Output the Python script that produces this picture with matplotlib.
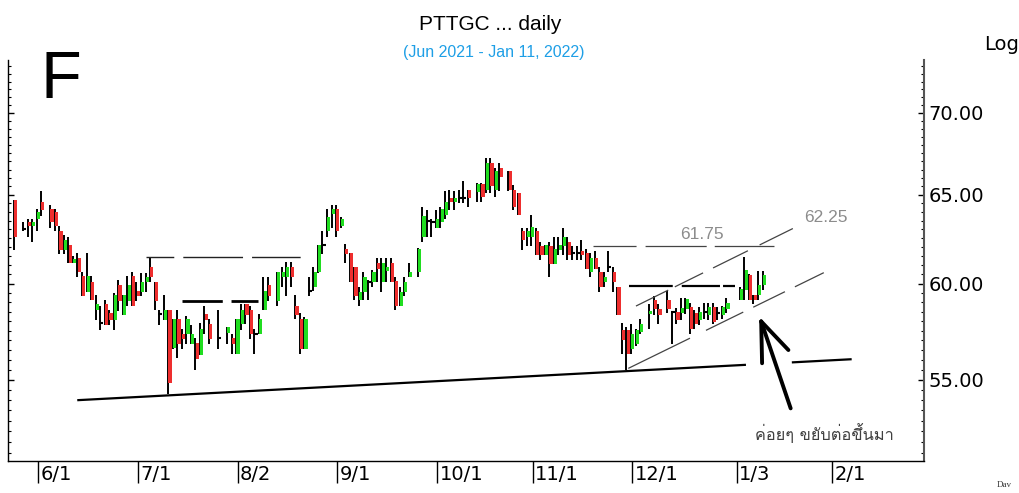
import numpy as np
import pandas as pd
import matplotlib
matplotlib.use("Agg")
import matplotlib.pyplot as plt
import matplotlib.transforms as mtrans
from matplotlib import font_manager as fm
from matplotlib.ft2font import FT2Font
from matplotlib.ticker import FixedLocator, NullFormatter, FormatStrFormatter

# ---------------- data ----------------
start_date = "2021-05-25"
holidays = ["2021-05-26", "2021-06-03", "2021-07-26", "2021-07-28", "2021-08-12",
            "2021-09-24", "2021-10-13", "2021-10-22", "2021-12-06", "2021-12-10",
            "2021-12-31", "2022-01-03"]

ohlc = [
    (64.7, 64.7, 61.85, 62.6), (63.0, 63.4, 62.9, 63.0), (63.4, 63.6, 62.6, 63.2), (63.2, 63.6, 62.3, 63.4),
    (63.6, 64.2, 62.9, 64.0), (64.6, 65.2, 63.75, 64.1), (64.2, 64.4, 63.1, 63.4), (64.0, 64.2, 62.9, 63.2),
    (62.9, 63.2, 61.6, 61.85), (61.85, 62.7, 61.6, 62.4), (62.1, 62.6, 61.1, 61.1), (61.1, 61.5, 61.1, 61.35),
    (61.4, 61.65, 60.35, 60.6), (60.4, 60.65, 59.3, 59.3), (59.55, 61.65, 59.55, 60.4), (60.1, 60.4, 59.1, 59.1),
    (58.6, 59.4, 58.05, 58.9), (57.9, 58.8, 57.55, 57.9), (58.9, 59.1, 57.8, 57.8), (58.4, 58.6, 57.8, 58.05),
    (58.05, 59.5, 57.55, 59.4), (59.9, 60.2, 58.55, 59.05), (58.3, 59.4, 58.3, 59.4), (59.05, 60.4, 58.8, 59.9),
    (60.4, 60.65, 58.8, 58.8), (59.6, 60.1, 59.05, 59.3), (59.55, 60.55, 59.3, 60.1), (60.1, 60.55, 59.55, 60.35),
    (60.9, 61.4, 60.1, 60.35), (60.1, 60.1, 58.6, 59.05), (58.35, 58.6, 57.8, 58.35), (58.05, 59.4, 58.05, 58.6),
    (58.6, 58.6, 54.3, 54.85), (56.6, 58.1, 56.55, 58.1), (58.1, 58.6, 56.1, 56.8), (57.35, 57.6, 56.55, 57.05),
    (57.35, 58.25, 56.8, 58.1), (56.8, 57.8, 56.8, 57.35), (56.85, 57.1, 55.5, 56.05), (56.25, 57.9, 56.25, 57.6),
    (58.35, 58.8, 57.3, 58.05), (57.85, 58.1, 56.8, 57.05), (57.1, 58.6, 56.55, 57.1), (57.4, 57.7, 56.8, 57.7),
    (57.1, 57.35, 56.3, 56.8), (56.3, 58.1, 56.3, 58.1), (57.85, 58.9, 57.55, 58.6), (58.9, 58.9, 57.85, 58.3),
    (58.6, 58.8, 57.05, 57.3), (57.3, 57.6, 56.3, 57.3), (57.3, 58.35, 57.3, 58.1), (58.6, 60.35, 58.6, 59.6),
    (59.9, 60.35, 59.05, 59.3), (59.05, 60.65, 58.8, 60.65), (60.35, 60.9, 59.8, 60.65), (60.35, 61.15, 59.3, 60.9),
    (60.9, 61.15, 59.8, 60.35), (58.8, 59.4, 58.1, 58.3), (58.1, 58.4, 56.3, 56.55), (56.55, 58.2, 56.55, 58.1),
    (59.6, 60.35, 59.3, 59.6), (59.8, 60.9, 59.6, 60.65), (60.65, 62.1, 60.55, 62.1), (62.1, 62.9, 61.6, 62.1),
    (62.9, 64.2, 62.6, 63.7), (63.9, 64.4, 63.1, 64.2), (64.2, 64.4, 62.6, 62.9), (63.2, 63.7, 63.1, 63.6),
    (61.9, 62.2, 61.1, 61.6), (61.65, 61.65, 60.1, 60.1), (60.9, 60.9, 59.1, 59.3), (59.1, 59.8, 58.8, 59.55),
    (59.55, 60.65, 59.1, 60.35), (60.1, 60.2, 59.1, 60.1), (60.1, 60.75, 59.8, 60.65), (61.1, 61.4, 60.1, 60.8),
    (60.1, 61.4, 59.55, 61.1), (60.7, 61.4, 60.1, 60.9), (61.1, 61.4, 60.1, 60.1), (60.15, 60.35, 58.6, 58.8),
    (58.8, 59.8, 58.8, 59.55), (59.55, 60.35, 59.3, 60.1), (60.35, 61.1, 60.35, 60.65), (60.6, 61.95, 60.35, 61.9),
    (62.6, 64.3, 62.3, 63.8), (63.5, 64.1, 62.6, 63.5), (63.4, 63.6, 62.6, 63.4), (63.1, 64.1, 63.1, 63.6),
    (63.4, 64.3, 63.1, 64.2), (63.85, 65.2, 63.6, 64.6), (64.8, 65.3, 64.1, 64.6), (64.6, 65.2, 64.1, 64.8),
    (64.8, 65.3, 64.5, 64.8), (64.8, 65.8, 64.5, 64.8), (65.3, 65.3, 64.3, 64.8), (65.15, 65.7, 64.6, 65.65),
    (65.65, 65.7, 64.6, 64.9), (65.3, 67.2, 65.1, 66.9), (66.9, 67.2, 65.1, 65.55), (65.3, 66.6, 64.9, 66.4),
    (66.6, 66.9, 65.2, 66.05), (66.4, 66.4, 65.2, 65.3), (65.3, 65.6, 64.1, 64.3), (65.1, 65.1, 63.85, 63.85),
    (62.9, 63.1, 61.85, 62.4), (62.6, 63.1, 62.05, 62.9), (62.6, 63.85, 62.05, 63.15), (62.9, 63.1, 61.55, 61.55),
    (62.05, 62.3, 61.3, 61.55), (61.55, 62.1, 61.55, 62.1), (62.05, 62.3, 60.35, 61.05), (61.05, 62.6, 61.05, 61.9),
    (61.85, 62.6, 61.55, 62.1), (62.05, 63.1, 61.55, 62.6), (62.3, 62.6, 61.3, 61.55), (61.65, 62.05, 61.3, 61.65),
    (61.65, 62.05, 61.3, 61.65), (61.8, 62.4, 61.3, 61.55), (61.65, 61.9, 60.8, 60.8), (60.6, 61.65, 60.35, 61.4),
    (61.4, 61.8, 60.8, 60.8), (60.6, 60.9, 59.55, 59.8), (60.1, 60.6, 59.8, 60.35), (60.9, 61.8, 60.6, 60.9),
    (60.6, 60.9, 59.55, 60.1), (59.8, 59.8, 58.3, 58.3), (57.55, 57.9, 56.3, 57.0), (57.55, 57.7, 55.5, 56.3),
    (56.55, 57.85, 56.3, 57.3), (56.8, 57.6, 56.7, 57.55), (57.45, 58.1, 57.3, 57.85), (58.35, 58.9, 57.6, 58.55),
    (59.1, 59.3, 58.3, 58.65), (58.65, 58.9, 57.85, 58.3), (59.1, 59.6, 58.4, 58.65), (58.5, 58.55, 56.8, 58.5),
    (58.45, 58.7, 57.85, 58.05), (58.4, 59.2, 58.05, 58.7), (58.65, 59.2, 58.35, 59.15), (58.75, 58.95, 57.3, 57.6),
    (58.4, 58.6, 57.6, 57.85), (58.05, 58.75, 57.8, 58.5), (58.5, 58.95, 58.1, 58.5), (58.3, 58.95, 58.05, 58.75),
    (58.75, 58.95, 57.85, 57.95), (58.4, 58.75, 58.05, 58.4), (58.3, 58.8, 58.1, 58.75), (58.65, 59.2, 58.4, 58.95),
    (59.1, 59.8, 59.1, 59.7), (59.65, 61.45, 59.1, 60.75), (60.45, 60.5, 59.1, 59.1), (59.4, 59.4, 58.9, 59.1),
    (59.4, 60.7, 59.1, 59.9), (59.9, 60.7, 59.65, 60.45),
]
opens = [r[0] for r in ohlc]
highs = [r[1] for r in ohlc]
lows = [r[2] for r in ohlc]
closes = [r[3] for r in ohlc]

month_labels = ["6/1", "7/1", "8/2", "9/1", "10/1", "11/1", "12/1", "1/3", "2/1"]
month_dates = ["2021-06-01", "2021-07-01", "2021-08-02", "2021-09-01", "2021-10-01",
               "2021-11-01", "2021-12-01", "2022-01-03", "2022-02-01"]
price_labels = [55, 60, 65, 70]

title = "PTTGC ... daily"
subtitle = "(Jun 2021 - Jan 11, 2022)"
note_text = "ค่อยๆ ขยับต่อขึ้นมา"
level_texts = ["61.75", "62.25"]

# analyst drawings (bar-slot, price)
support_line = [(13.9, 54.0), (184.1, 56.03)]
support_gap = (160.8, 171.4)
level_a = (28.8, 63.0, 61.47)
level_b = (36.7, 53.4, 59.08)
level_c = (127.4, 167.4, 62.08)
level_d = (135.3, 158.6, 59.86)
channel_low = [(135.1, 55.57), (178.2, 60.59)]
channel_high = [(136.8, 58.79), (171.5, 63.07)]
arrow_tail = (170.9, 53.6)
arrow_tip = (164.4, 57.98)
arrow_barbs = [(164.6, 55.83), (170.4, 56.5)]
level_text_pos = [(151.4, 62.69), (178.7, 63.70)]
note_pos = (163.0, 52.08)

# ---------------- helpers ----------------
plt.rcParams["lines.scale_dashes"] = False


def find_font(ch):
    for f in fm.fontManager.ttflist:
        try:
            if ord(ch) in FT2Font(f.fname).get_charmap():
                return f.name
        except Exception:
            pass
    return None


thai_font = find_font("ข")
thai_family = [thai_font, "DejaVu Sans"] if thai_font else ["DejaVu Sans"]

W, H = 1019, 493
fig = plt.figure(figsize=(W / 100, H / 100), dpi=100)
ax_left, ax_right, ax_top, ax_bot = 8, 924, 60, 461
ax = fig.add_axes([ax_left / W, (H - ax_bot) / H, (ax_right - ax_left) / W, (ax_bot - ax_top) / H])

cal = pd.bdate_range(start_date, "2022-02-28")
hol = pd.to_datetime(holidays)
trade = cal[~cal.isin(hol)][:len(opens)]
xs = np.array([cal.get_loc(d) for d in trade], dtype=float)

o = np.array(opens); h = np.array(highs); l = np.array(lows); c = np.array(closes)
up = c > o
dn = c < o
dj = c == o
green = "#20DD20"
red = "#EE2E2E"

ax.vlines(xs - 0.3, l, h, color="black", lw=1.4, zorder=2)
bb = np.minimum(o, c)
bh = np.abs(c - o)
ax.bar(xs[up] + 0.08, bh[up], bottom=bb[up], width=0.7, color=green, lw=0, zorder=3)
ax.bar(xs[dn] + 0.08, bh[dn], bottom=bb[dn], width=0.7, color=red, lw=0, zorder=3)
ax.hlines(o[dj], xs[dj] - 0.5, xs[dj] + 0.4, color="black", lw=1.5, zorder=3)


def log_line(p1, p2, xa, xb):
    (x1, y1), (x2, y2) = p1, p2
    s = (np.log(y2) - np.log(y1)) / (x2 - x1)
    return [xa, xb], [y1 * np.exp(s * (xa - x1)), y1 * np.exp(s * (xb - x1))]


# support line with a gap
sx, sy = log_line(*support_line, support_line[0][0], support_gap[0])
ax.plot(sx, sy, color="black", lw=1.6, zorder=4)
sx, sy = log_line(*support_line, support_gap[1], support_line[1][0])
ax.plot(sx, sy, color="black", lw=1.6, zorder=4)

# horizontal levels
ax.plot(level_a[:2], [level_a[2]] * 2, color="#222222", lw=1.0, dashes=(20, 6.5, 43, 6.5, 35, 6.5), zorder=4)
ax.plot(level_b[:2], [level_b[2]] * 2, color="black", lw=2.0, dashes=(29, 6.3, 20, 6.3), zorder=4)
ax.plot(level_c[:2], [level_c[2]] * 2, color="#444444", lw=0.9, dashes=(31, 6.5, 44, 5.8, 43, 6), zorder=4)
ax.plot(level_d[:2], [level_d[2]] * 2, color="black", lw=1.6, dashes=(31.5, 6.5, 27.5, 2.2, 9, 5), zorder=4)

# channel
cx, cy = log_line(*channel_low, channel_low[0][0], channel_low[1][0])
ax.plot(cx, cy, color="#444444", lw=0.9, dashes=(49.5, 12.8, 29.9, 8, 25.4, 8, 23.3, 8), zorder=4)
cx, cy = log_line(*channel_high, channel_high[0][0], channel_high[1][0])
ax.plot(cx, cy, color="#444444", lw=0.9, dashes=(25.9, 5.3, 22.7, 8, 28, 9.4, 26.7, 8), zorder=4)

# hand-drawn arrow
ax.plot([arrow_tail[0], arrow_tip[0]], [arrow_tail[1], arrow_tip[1]], color="black", lw=2.8,
        solid_capstyle="round", zorder=5)
for bx, by in arrow_barbs:
    ax.plot([arrow_tip[0], bx], [arrow_tip[1], by], color="black", lw=2.8, solid_capstyle="round", zorder=5)

for (tx, ty), t in zip(level_text_pos, level_texts):
    ax.text(tx, ty, t, ha="center", va="center", fontsize=12.5, color="#8C8C8C",
            family=["Liberation Sans", "DejaVu Sans"], zorder=6)

ax.text(note_pos[0], note_pos[1], note_text, ha="left", va="baseline", fontsize=11.8,
        color="#404040", family=thai_family, zorder=6)

# axes
ax.set_yscale("log")
ax.set_xlim((ax_left - 15.3) / 4.537, (ax_right - 15.3) / 4.537)
ax.set_ylim(60 * np.exp((283.5 - ax_bot) / 1107), 60 * np.exp((283.5 - ax_top) / 1107))

ax.yaxis.set_major_locator(FixedLocator(price_labels))
ax.yaxis.set_major_formatter(FormatStrFormatter("%.2f"))
minor = [v / 2 for v in range(100, 150) if v / 2 not in price_labels]
ax.yaxis.set_minor_locator(FixedLocator(minor))
ax.yaxis.set_minor_formatter(NullFormatter())
ax.tick_params(axis="y", which="both", left=True, right=True, labelleft=False, labelright=True,
               direction="in", colors="black")
ax.tick_params(axis="y", which="major", length=4.5, width=1.0, pad=3, labelsize=14)
ax.tick_params(axis="y", which="minor", length=2.5, width=0.8)
for lab in ax.get_yticklabels():
    lab.set_family("DejaVu Sans")

tick_pos = [cal.get_loc(pd.Timestamp(d)) for d in month_dates]
ax.xaxis.set_major_locator(FixedLocator(tick_pos))
ax.xaxis.set_minor_locator(FixedLocator([]))
ax.tick_params(axis="x", which="major", direction="out", length=16, width=1.0, labelbottom=False, color="black")
lab_trans = mtrans.offset_copy(mtrans.blended_transform_factory(ax.transData, ax.transAxes),
                               fig=fig, x=2.5, y=-13, units="dots")
for p, t in zip(tick_pos, month_labels):
    ax.text(p, 0, t, transform=lab_trans, ha="left", va="center", fontsize=14, family="DejaVu Sans")

ax.spines["top"].set_visible(False)
ax.spines["left"].set_color("black")
ax.spines["left"].set_linewidth(1.0)
ax.spines["right"].set_color("#555555")
ax.spines["right"].set_linewidth(1.5)
ax.spines["bottom"].set_color("black")
ax.spines["bottom"].set_linewidth(1.0)

# figure texts
def ftext(x, y, s, **kw):
    fig.text(x / W, 1 - y / H, s, **kw)

ftext(490, 30, title, ha="center", va="baseline", fontsize=15, family=["Liberation Sans", "DejaVu Sans"])
ftext(494, 57, subtitle, ha="center", va="baseline", fontsize=11.5, color="#1E9FE6",
      family=["Liberation Sans", "DejaVu Sans"])
ftext(984, 50, "Log", ha="left", va="baseline", fontsize=14, family="DejaVu Sans")
ftext(41, 98, "F", ha="left", va="baseline", fontsize=48, family=["Liberation Sans", "DejaVu Sans"])
ftext(997, 487, "Dav", ha="left", va="baseline", fontsize=6.5, color="#333333",
      family=["Liberation Serif", "DejaVu Serif"])

fig.savefig("out.png", dpi=100)
